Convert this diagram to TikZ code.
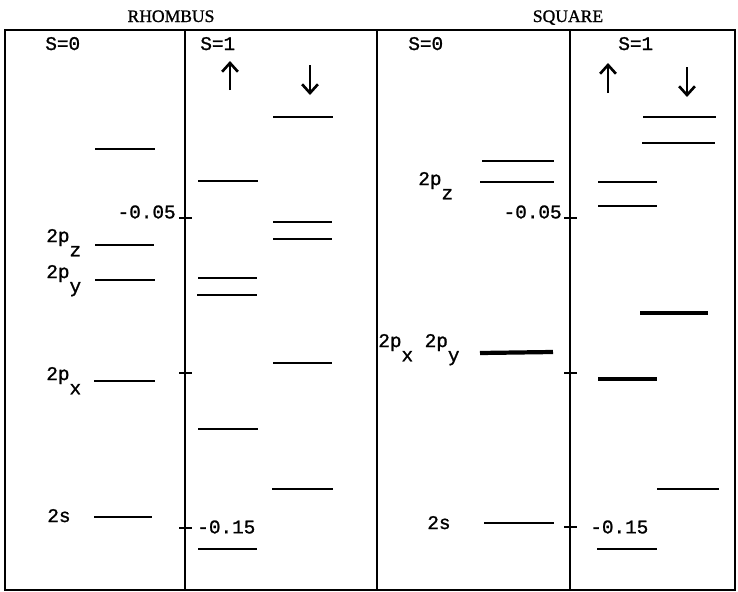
\documentclass[tikz,border=0pt]{standalone}
\usepackage{fontspec}
\setmainfont[UprightFeatures={FakeBold=1.2}]{Liberation Serif}
\setmonofont[UprightFeatures={FakeBold=1.2}]{Liberation Mono}
\usetikzlibrary{arrows.meta}
\tikzset{
    frame/.style={line width=1.2pt},
    level/.style={line width=1.3pt},
    thicklevel/.style={line width=2.4pt},
    lab/.style={font=\ttfamily\fontsize{11}{13}\selectfont, inner sep=0pt},
    ttl/.style={font=\fontsize{10}{12}\selectfont, inner sep=0pt},
    spin/.style={line width=1.5pt, -{Straight Barb[length=5pt,width=9pt]}}
}
\newcommand{\lowsub}[1]{\raisebox{-1.4ex}{#1}}
\begin{document}
\begin{tikzpicture}[x=0.02cm, y=-0.02cm]
        \useasboundingbox (0,0) rectangle (738,592);
        \draw[frame] (5,30) rectangle (735,590);
        \draw[frame] (185,30) -- (185,590);
        \draw[frame] (377,30) -- (377,590);
        \draw[frame] (570,30) -- (570,590);
        \node[ttl, anchor=base] (rhombus) at (171,22) {RHOMBUS};
        \node[ttl, anchor=base] (square) at (568,22) {SQUARE};
        \node[lab, anchor=base west] (rs0) at (45,50) {S=0};
        \node[lab, anchor=base west] (rs1) at (200,50) {S=1};
        \node[lab, anchor=base west] (ss0) at (408,50) {S=0};
        \node[lab, anchor=base west] (ss1) at (618,50) {S=1};
        \draw[spin] (230,90) -- (230,61);
        \draw[spin] (310,65) -- (310,95);
        \draw[spin] (608,93) -- (608,63);
        \draw[spin] (687,67) -- (687,97);
        \draw[line width=1.2pt] (179,218) -- (192,218);
        \draw[line width=1.2pt] (179,373) -- (192,373);
        \draw[line width=1.2pt] (179,528) -- (192,528);
        \draw[line width=1.2pt] (564,218) -- (577,218);
        \draw[line width=1.2pt] (564,373) -- (577,373);
        \draw[line width=1.2pt] (564,527) -- (577,527);
        \node[lab, anchor=east] (ra) at (176,212) {-0.05};
        \node[lab, anchor=west] (rb) at (197,527) {-0.15};
        \node[lab, anchor=east] (sa) at (562,212) {-0.05};
        \node[lab, anchor=west] (sb) at (590,527) {-0.15};
        \draw[level] (95,149) -- (155,149);
        \draw[level] (95,245) -- (154,245);
        \draw[level] (95,280) -- (155,280);
        \draw[level] (94,381) -- (155,381);
        \draw[level] (94,517) -- (152,517);
        \node[lab, anchor=base west] (rz) at (46,242) {2p\lowsub{z}};
        \node[lab, anchor=base west] (ry) at (46,278) {2p\lowsub{y}};
        \node[lab, anchor=base west] (rx) at (46,380) {2p\lowsub{x}};
        \node[lab, anchor=base west] (rs) at (47,522) {2s};
        \draw[level] (198,181) -- (258,181);
        \draw[level] (198,278) -- (257,278);
        \draw[level] (197,295) -- (257,295);
        \draw[level] (198,429) -- (258,429);
        \draw[level] (198,549) -- (257,549);
        \draw[level] (273,117) -- (333,117);
        \draw[level] (273,222) -- (332,222);
        \draw[level] (273,239) -- (332,239);
        \draw[level] (273,363) -- (332,363);
        \draw[level] (272,489) -- (333,489);
        \draw[level] (482,161) -- (554,161);
        \draw[level] (480,182) -- (554,182);
        \draw[thicklevel] (480,353) -- (553,352);
        \draw[level] (484,523) -- (554,523);
        \node[lab, anchor=base west] (sz) at (418,185) {2p\lowsub{z}};
        \node[lab, anchor=base west] (sxy) at (378,347) {2p\lowsub{x} 2p\lowsub{y}};
        \node[lab, anchor=base west] (ss) at (427,529) {2s};
        \draw[level] (598,182) -- (657,182);
        \draw[level] (598,206) -- (657,206);
        \draw[thicklevel] (598,379) -- (657,379);
        \draw[level] (597,549) -- (657,549);
        \draw[level] (643,117) -- (716,117);
        \draw[level] (642,143) -- (715,143);
        \draw[thicklevel] (640,313) -- (708,313);
        \draw[level] (657,489) -- (719,489);
\end{tikzpicture}
\end{document}
